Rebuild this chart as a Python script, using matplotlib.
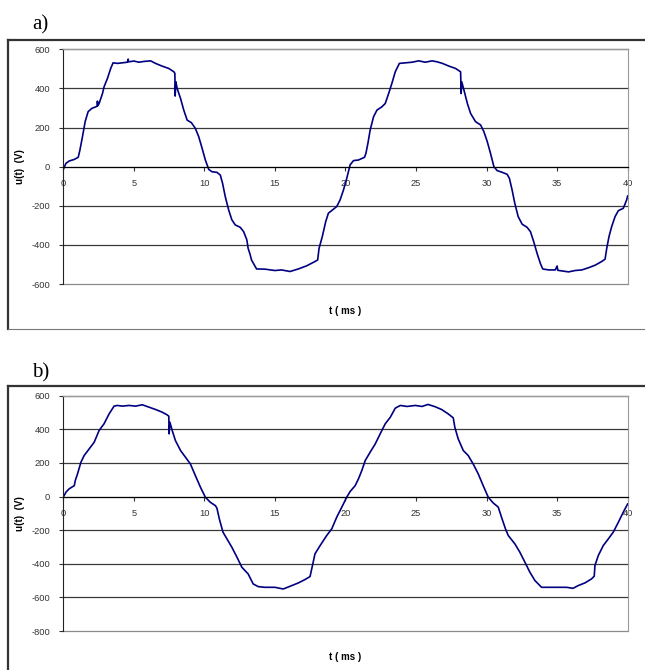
import matplotlib
matplotlib.use("Agg")
import matplotlib.pyplot as plt
from matplotlib.lines import Line2D

# panel a) measured voltage
t_a = [0.00, 0.19, 0.42, 0.78, 1.06, 1.18, 1.36, 1.55, 1.76, 2.02, 2.31, 2.40, 2.42, 2.45,
       2.54, 2.78, 2.89, 3.13, 3.36, 3.53, 3.84, 4.19, 4.54, 4.60, 4.62, 5.01, 5.36, 5.72,
       6.19, 6.54, 7.01, 7.48, 7.84, 7.91, 7.93, 7.98, 8.07, 8.31, 8.54, 8.78, 9.08, 9.36,
       9.60, 9.84, 10.07, 10.31, 10.54, 10.89, 11.13, 11.29, 11.48, 11.72, 11.95, 12.19,
       12.54, 12.78, 13.01, 13.10, 13.25, 13.34, 13.70, 14.29, 15.00, 15.47, 16.07, 16.66,
       17.25, 17.84, 18.03, 18.13, 18.36, 18.60, 18.79, 19.08, 19.38, 19.62, 19.86, 20.09,
       20.33, 20.57, 20.92, 21.35, 21.45, 21.59, 21.75, 21.99, 22.23, 22.58, 22.82, 23.06,
       23.29, 23.53, 23.82, 24.24, 24.72, 25.19, 25.66, 26.14, 26.50, 26.87, 27.34, 27.81,
       28.16, 28.20, 28.24, 28.40, 28.64, 28.87, 29.22, 29.58, 29.81, 30.05, 30.28, 30.52,
       30.75, 31.11, 31.46, 31.62, 31.81, 32.00, 32.24, 32.52, 32.87, 33.11, 33.34, 33.58,
       33.81, 33.98, 34.40, 34.87, 35.00, 35.05, 35.34, 35.81, 36.28, 36.75, 37.22, 37.69,
       38.16, 38.40, 38.52, 38.68, 38.87, 39.11, 39.34, 39.69, 39.93, 40.00]
u_a = [-14, 17, 29, 37, 48, 85, 153, 230, 281, 298, 306, 310, 335, 312,
       323, 374, 408, 451, 502, 531, 528, 531, 534, 550, 536, 540, 534, 538,
       541, 528, 514, 502, 485, 477, 361, 434, 400, 349, 289, 238, 225, 196,
       153, 94, 34, -14, -26, -29, -43, -85, -153, -221, -272, -298,
       -310, -332, -374, -417, -451, -477, -523, -524, -531, -528, -536, -523,
       -507, -485, -477, -417, -357, -281, -238, -221, -204, -170, -119, -60,
       9, 31, 34, 48, 68, 119, 187, 255, 289, 306, 323, 374,
       426, 485, 528, 531, 534, 541, 534, 541, 536, 528, 514, 502,
       485, 374, 434, 391, 323, 272, 230, 213, 179, 128, 68, 0,
       -20, -29, -39, -60, -119, -187, -255, -294, -310, -332, -383, -443,
       -494, -523, -528, -528, -508, -530, -533, -538, -531, -528, -517, -504,
       -485, -473, -417, -357, -306, -255, -225, -213, -170, -150]

# panel b) measured voltage
t_b = [0.00, 0.19, 0.42, 0.78, 0.85, 1.01, 1.25, 1.48, 1.84, 2.19, 2.54, 2.89, 3.25, 3.60,
       3.84, 4.19, 4.66, 5.13, 5.60, 6.07, 6.54, 7.01, 7.36, 7.48, 7.50, 7.56, 7.72, 7.95,
       8.31, 8.66, 9.01, 9.36, 9.72, 10.07, 10.42, 10.78, 10.89, 11.06, 11.32, 11.60, 11.95,
       12.31, 12.66, 13.10, 13.46, 13.82, 14.29, 15.00, 15.59, 16.07, 16.66, 17.13, 17.49,
       17.61, 17.84, 18.20, 18.67, 19.03, 19.38, 19.74, 20.09, 20.33, 20.69, 20.92, 21.16,
       21.40, 21.75, 22.11, 22.46, 22.82, 23.18, 23.53, 23.89, 24.36, 24.95, 25.43, 25.85,
       26.37, 26.81, 27.28, 27.64, 27.75, 27.99, 28.35, 28.70, 29.05, 29.41, 29.76, 30.12,
       30.47, 30.83, 31.06, 31.34, 31.54, 32.01, 32.36, 32.72, 33.07, 33.43, 33.90, 34.48,
       35.07, 35.66, 36.13, 36.49, 36.97, 37.44, 37.63, 37.66, 37.68, 37.92, 38.27, 38.63,
       38.98, 39.34, 39.69, 40.00]
u_b = [-4, 26, 46, 65, 95, 135, 204, 244, 284, 323, 393, 433, 492, 538,
       542, 538, 542, 538, 546, 532, 518, 502, 486, 478, 373, 442, 393, 333,
       274, 234, 194, 125, 56, -4, -34, -54, -69, -133, -212, -252, -302,
       -361, -421, -460, -520, -536, -540, -540, -550, -534, -514, -494, -476,
       -430, -341, -292, -232, -192, -123, -63, -4, 30, 65, 105, 155,
       214, 264, 313, 373, 433, 472, 526, 542, 536, 542, 536, 548,
       534, 518, 492, 468, 413, 343, 274, 244, 194, 135, 65, -4,
       -38, -63, -123, -192, -232, -282, -331, -391, -450, -500, -540, -540,
       -540, -540, -546, -530, -514, -490, -474, -440, -411, -351, -292, -252,
       -212, -153, -93, -44]

x_ticks = [0, 5, 10, 15, 20, 25, 30, 35, 40]
y_ticks_a = [-600, -400, -200, 0, 200, 400, 600]
y_ticks_b = [-800, -600, -400, -200, 0, 200, 400, 600]

plt.rcParams['font.family'] = ['Liberation Sans', 'DejaVu Sans']

fig = plt.figure(figsize=(6.45, 6.70), dpi=100)


def panel(rect, t, u, yticks, xlab_y):
    ax = fig.add_axes(rect)
    ax.plot(t, u, color='#000080', lw=1.2)
    ax.set_xlim(0, 40)
    ax.set_ylim(yticks[0], yticks[-1])
    ax.set_xticks(x_ticks)
    ax.set_yticks(yticks)
    ax.set_xticklabels([str(v) for v in x_ticks])
    ax.set_yticklabels([str(v) for v in yticks])
    ax.grid(axis='y', color='#3a3a3a', lw=0.9)
    for gl in ax.get_ygridlines():
        gl.set_clip_on(False)
    ax.get_ygridlines()[0].set_color('#8a8a8a')
    ax.set_axisbelow(True)
    ax.spines['bottom'].set_position(('data', 0))
    ax.spines['bottom'].set_color('black')
    ax.spines['left'].set_color('#222222')
    for s in ['top', 'right']:
        ax.spines[s].set_color('#9a9a9a')
    ax.tick_params(axis='x', direction='out', length=3, width=0.8, pad=6,
                   labelsize=6.7, colors='#333333')
    ax.tick_params(axis='y', direction='out', length=3, width=0.8, pad=6.5,
                   labelsize=6.7, colors='#333333')
    ax.set_ylabel('u(t)  (V)', fontsize=7, fontweight='bold')
    ax.yaxis.set_label_coords(-0.068, 0.5)
    ax.set_xlabel('t ( ms )', fontsize=7, fontweight='bold')
    ax.xaxis.set_label_coords(0.5, xlab_y)
    return ax


panel([0.0981, 0.5761, 0.875, 0.3503], t_a, u_a, y_ticks_a, -0.094)
panel([0.0981, 0.0582, 0.875, 0.3512], t_b, u_b, y_ticks_b, -0.088)

# outer frames
fig.add_artist(Line2D([0.0124, 1.0], [0.9403, 0.9403], color='#333333', lw=1.6))
fig.add_artist(Line2D([0.0124, 0.0124], [0.5090, 0.9403], color='#333333', lw=1.6))
fig.add_artist(Line2D([0.0124, 1.0], [0.5090, 0.5090], color='#777777', lw=0.8))
fig.add_artist(Line2D([0.0124, 1.0], [0.4239, 0.4239], color='#333333', lw=1.6))
fig.add_artist(Line2D([0.0124, 0.0124], [0.0, 0.4239], color='#333333', lw=1.6))

fig.text(0.0496, 0.9567, 'a)', family='Liberation Serif', fontsize=15, va='baseline')
fig.text(0.0496, 0.4363, 'b)', family='Liberation Serif', fontsize=15, va='baseline')

fig.savefig('out.png', dpi=100)
